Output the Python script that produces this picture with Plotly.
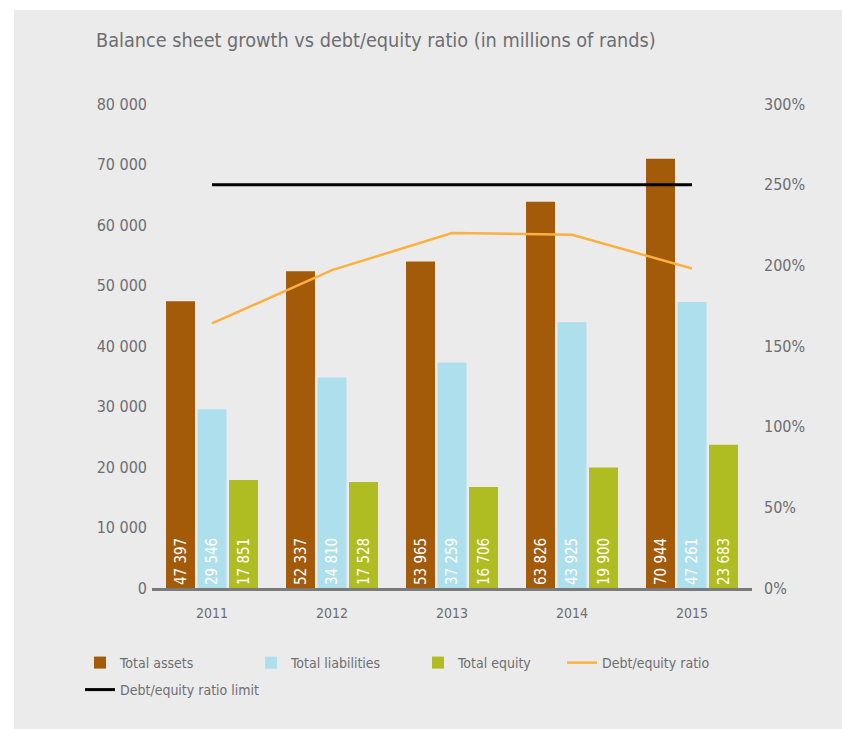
import plotly.graph_objects as go

# Balance sheet figures, millions of rands
years = ["2011", "2012", "2013", "2014", "2015"]
total_assets = [47397, 52337, 53965, 63826, 70944]
total_liabilities = [29546, 34810, 37259, 43925, 47261]
total_equity = [17851, 17528, 16706, 19900, 23683]
debt_equity_ratio = [164, 197, 220, 219, 198]          # percent
debt_equity_limit = [250, 250, 250, 250, 250]          # percent

left_ticks = [0, 10000, 20000, 30000, 40000, 50000, 60000, 70000, 80000]
right_ticks = [0, 50, 100, 150, 200, 250, 300]
right_tick_text = [f"{v}%" for v in right_ticks]

BG = "#ebebeb"
GREY_TXT = "#6d6e71"
FONT = "Liberation Sans Narrow, DejaVu Sans Condensed, Roboto, sans-serif"

W, H = 842, 729
ML, MR, MT, MB = 152, 90, 104, 141
PW = W - ML - MR
PH = H - MT - MB

fig = go.Figure()

bar_specs = [
    ("Total assets", total_assets, "#a35b0a", "legend"),
    ("Total liabilities", total_liabilities, "#aedfec", "legend2"),
    ("Total equity", total_equity, "#afbd22", "legend3"),
]
for name, vals, col, leg in bar_specs:
    fig.add_trace(go.Bar(
        x=years, y=vals, name=name, marker=dict(color=col, line=dict(width=0)),
        texttemplate="%{y:,d}", textposition="inside", insidetextanchor="start",
        textangle=-90, textfont=dict(color="white", size=15, family=FONT),
        cliponaxis=False, legend=leg,
    ))

fig.add_trace(go.Scatter(
    x=years, y=debt_equity_ratio, name="Debt/equity ratio", yaxis="y2",
    mode="lines", line=dict(color="#fbb040", width=2.5), legend="legend4",
))
fig.add_trace(go.Scatter(
    x=years, y=debt_equity_limit, name="Debt/equity ratio limit", yaxis="y2",
    mode="lines", line=dict(color="#000000", width=3), legend="legend5",
))


def px_x(p):
    return (p - ML) / PW


def px_y(p):
    return (H - MB - p) / PH


legend_style = dict(
    orientation="h", xanchor="left", yanchor="middle", bgcolor="rgba(0,0,0,0)",
    font=dict(family=FONT, size=14, color=GREY_TXT), itemwidth=30,
    itemclick=False, itemdoubleclick=False,
)
legend_pos = [(80, 663), (251, 663), (418, 663), (562, 663), (80, 690)]
legend_layout = {}
for i, (lx, ly) in enumerate(legend_pos):
    key = "legend" if i == 0 else f"legend{i + 1}"
    legend_layout[key] = dict(legend_style, x=px_x(lx), y=px_y(ly))

# light grey panel with a thin white strip on the left and top
shapes = [
    dict(type="rect", xref="paper", yref="paper", layer="below",
         x0=px_x(0), x1=px_x(14), y0=px_y(H), y1=px_y(0),
         fillcolor="white", line=dict(width=0)),
    dict(type="rect", xref="paper", yref="paper", layer="below",
         x0=px_x(0), x1=px_x(W), y0=px_y(10), y1=px_y(0),
         fillcolor="white", line=dict(width=0)),
]

fig.update_layout(
    width=W, height=H,
    margin=dict(l=ML, r=MR, t=MT, b=MB),
    paper_bgcolor=BG, plot_bgcolor=BG,
    separators=". ",
    barmode="group", bargap=0.2125, bargroupgap=0.08,
    showlegend=True,
    shapes=shapes,
    title=dict(
        text="Balance sheet growth vs debt/equity ratio (in millions of rands)",
        xref="container", yref="container", x=96 / W, xanchor="left",
        y=1 - 40 / H, yanchor="middle",
        font=dict(family=FONT, size=19.7, color=GREY_TXT),
    ),
    xaxis=dict(
        type="category", showgrid=False, showline=True, linecolor="#7a7a7a",
        linewidth=3, ticks="", tickfont=dict(family=FONT, size=14, color=GREY_TXT),
        ticklabelstandoff=10, zeroline=False,
    ),
    yaxis=dict(
        range=[0, 80000], tickmode="array", tickvals=left_ticks, tickformat=",d",
        showgrid=False, zeroline=False, showline=False, ticks="",
        tickfont=dict(family=FONT, size=16, color=GREY_TXT), ticklabelstandoff=4,
    ),
    yaxis2=dict(
        range=[0, 300], tickmode="array", tickvals=right_ticks,
        ticktext=right_tick_text, overlaying="y",
        side="right", showgrid=False, zeroline=False, showline=False, ticks="",
        tickfont=dict(family=FONT, size=16, color=GREY_TXT), ticklabelstandoff=11,
    ),
    **legend_layout,
)

fig.write_html("out.html")
